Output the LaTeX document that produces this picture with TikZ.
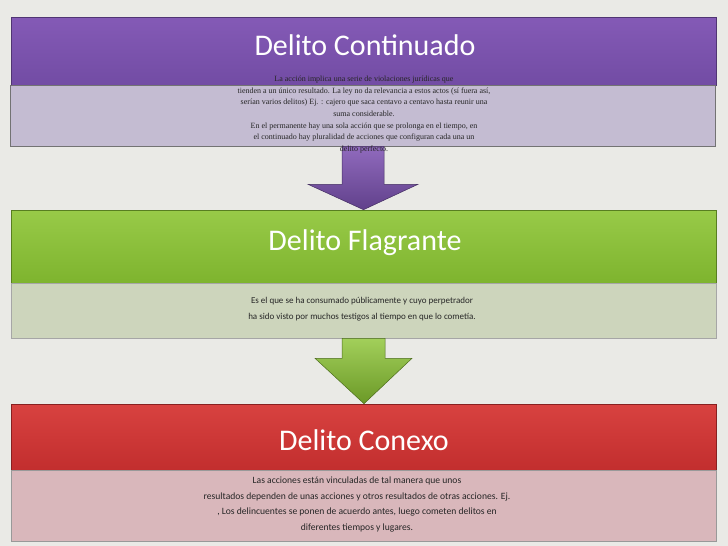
\documentclass[tikz,border=0pt]{standalone}
\usepackage{fontspec}
\setmainfont{Liberation Serif}
\newfontfamily\calibrifont{Carlito}
\usetikzlibrary{positioning, calc}

\definecolor{bgpaper}{RGB}{234,234,230}
\definecolor{purpletop}{RGB}{132,90,182}
\definecolor{purplebot}{RGB}{114,76,164}
\definecolor{lavender}{RGB}{196,188,210}
\definecolor{greentop}{RGB}{152,202,72}
\definecolor{greenbot}{RGB}{126,180,46}
\definecolor{palegreen}{RGB}{205,213,188}
\definecolor{redtop}{RGB}{216,66,64}
\definecolor{redbot}{RGB}{194,46,46}
\definecolor{palered}{RGB}{217,183,187}

\begin{document}
\begin{tikzpicture}[
    x=1pt, y=1pt,
    band/.style={rectangle, inner sep=0pt, minimum width=705pt, line width=0.6pt},
    purpleband/.style={band, top color=purpletop, bottom color=purplebot, draw=purplebot!70!black},
    greenband/.style={band, top color=greentop, bottom color=greenbot, draw=greenbot!70!black},
    redband/.style={band, top color=redtop, bottom color=redbot, draw=redbot!70!black},
    title/.style={font=\calibrifont\fontsize{30}{33}\selectfont, text=white},
    descserif/.style={align=center, font=\fontsize{8}{11.6}\selectfont, text=black!85},
    descsans/.style={align=center, font=\calibrifont\fontsize{9}{15.8}\selectfont, text=black!85},
    blockarrow/.style={line width=0.5pt}
]
\useasboundingbox[fill=bgpaper] (0,0) rectangle (728,-546);

% bands and boxes
\node[purpleband, minimum height=68pt] (head1) at (364,-51) {};
\node[band, fill=lavender, draw=black!55, minimum height=61pt] (box1) at (363,-115.5) {};
\node[greenband, minimum height=73pt] (head2) at (363.5,-246.5) {};
\node[band, fill=palegreen, draw=black!35, minimum height=55pt] (box2) at (363.5,-310.5) {};
\node[redband, minimum height=66pt] (head3) at (364,-437) {};
\node[band, fill=palered, draw=black!40, minimum height=71pt] (box3) at (364,-505.5) {};

% arrows between the steps
\draw[blockarrow, top color=purpletop!90!white, bottom color=purplebot!85!black, draw=purplebot!60!black]
    ($(box1.south)+(-21,0)$) -- ($(box1.south)+(21,0)$) -- ($(box1.south)+(21,-38)$)
    -- ($(box1.south)+(55,-38)$) -- (head2.north) -- ($(box1.south)+(-55,-38)$)
    -- ($(box1.south)+(-21,-38)$) -- cycle;
\draw[blockarrow, top color=greentop!90!white, bottom color=greenbot!85!black, draw=greenbot!60!black]
    ($(box2.south)+(-21.5,0)$) -- ($(box2.south)+(21.5,0)$) -- ($(box2.south)+(21.5,-20)$)
    -- ($(box2.south)+(48.5,-20)$) -- (head3.north) -- ($(box2.south)+(-48.5,-20)$)
    -- ($(box2.south)+(-21.5,-20)$) -- cycle;

% texts
\node[title] (t1) at (365,-45) {Delito Continuado};
\node[descserif] (d1) at (364,-114.5) {La acción implica una serie de violaciones jurídicas que\\
    tienden a un único resultado. La ley no da relevancia a estos actos (sí fuera así,\\
    serían varios delitos) Ej. : cajero que saca centavo a centavo hasta reunir una\\
    suma considerable.\\
    En el permanente hay una sola acción que se prolonga en el tiempo, en\\
    el continuado hay pluralidad de acciones que configuran cada una un\\
    delito perfecto.};
\node[title] (t2) at (365,-243) {Delito Flagrante};
\node[descsans] (d2) at (362,-309) {Es el que se ha consumado públicamente y cuyo perpetrador\\
    ha sido visto por muchos testigos al tiempo en que lo cometía.};
\node[title] (t3) at (364,-440) {Delito Conexo};
\node[descsans, font=\calibrifont\fontsize{9.6}{15.8}\selectfont] (d3) at (357,-504.5) {Las acciones están vinculadas de tal manera que unos\\
    resultados dependen de unas acciones y otros resultados de otras acciones. Ej.\\
    , Los delincuentes se ponen de acuerdo antes, luego cometen delitos en\\
    diferentes tiempos y lugares.};
\end{tikzpicture}
\end{document}
